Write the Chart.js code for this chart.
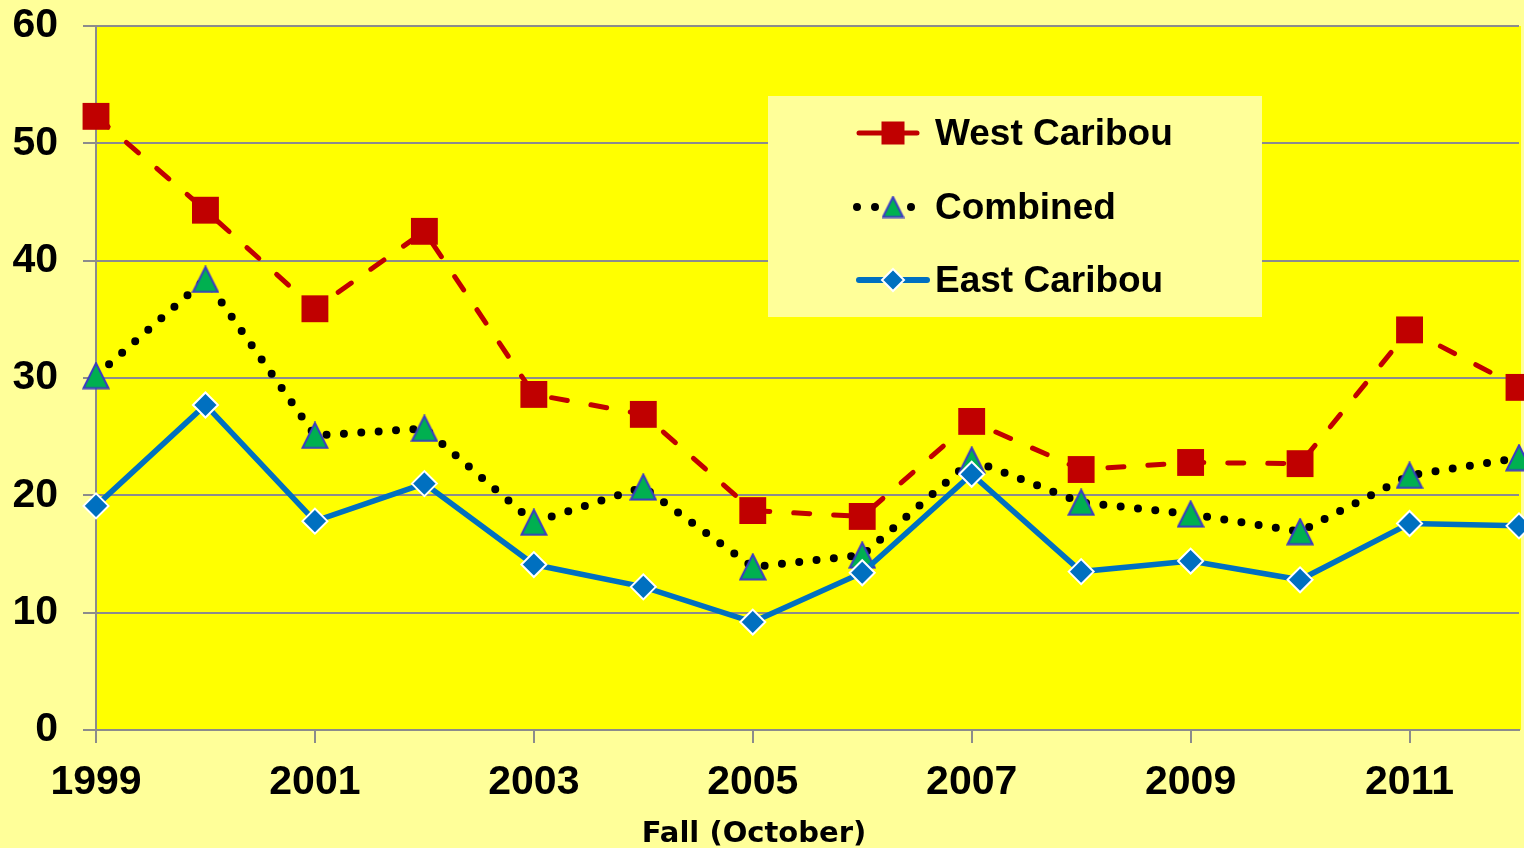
<!DOCTYPE html>
<html>
<head>
<meta charset="utf-8">
<script src="https://cdn.jsdelivr.net/npm/chart.js@4.4.0/dist/chart.umd.min.js"></script>
<style>
  html, body { margin: 0; padding: 0; background: #ffff99; }
  #wrap { width: 1524px; height: 848px; position: relative; }
</style>
</head>
<body>
<div id="wrap"><canvas id="caribou"></canvas></div>
<script>
// values
var years = [1999, 2000, 2001, 2002, 2003, 2004, 2005, 2006, 2007, 2008, 2009, 2010, 2011, 2012];
var yearTicks = [1999, 2001, 2003, 2005, 2007, 2009, 2011];
var countTicks = [0, 10, 20, 30, 40, 50, 60];
var westCaribou = [52.3, 44.3, 35.9, 42.5, 28.6, 26.9, 18.7, 18.2, 26.3, 22.2, 22.8, 22.7, 34.1, 29.2];
var combined    = [30.2, 38.4, 25.1, 25.7, 17.7, 20.7, 13.9, 14.9, 23.0, 19.4, 18.4, 16.9, 21.7, 23.2];
var eastCaribou = [19.1, 27.7, 17.8, 21.0, 14.1, 12.2, 9.2, 13.4, 21.8, 13.5, 14.4, 12.8, 17.6, 17.4];
var seriesNames = ["West Caribou", "Combined", "East Caribou"];

var RED = "#c00000", GREEN = "#00b050", BLUE = "#0070c0", TRI_EDGE = "#3b3bc4";
var GRID = "#8c8c8c";
var TICK_FONT = { family: "'Liberation Sans', Arial, sans-serif", size: 41, weight: "bold" };

// excel-like triangle marker (centred on its box)
function makeTriangle(size) {
  var c = document.createElement("canvas");
  c.width = size; c.height = size;
  var g = c.getContext("2d");
  g.beginPath();
  g.moveTo(size / 2, 1.5);
  g.lineTo(size - 1.5, size - 1.5);
  g.lineTo(1.5, size - 1.5);
  g.closePath();
  g.fillStyle = GREEN; g.fill();
  g.lineWidth = 2; g.strokeStyle = TRI_EDGE; g.stroke();
  return c;
}
var triBig = makeTriangle(28);
var triSmall = makeTriangle(23);

var backgroundPlugin = {
  id: "plotBg",
  beforeDraw: function(chart) {
    var ctx = chart.ctx, a = chart.chartArea;
    ctx.save();
    ctx.fillStyle = "#ffff99";
    ctx.fillRect(0, 0, chart.width, chart.height);
    ctx.fillStyle = "#ffff00";
    ctx.fillRect(a.left, a.top, a.right - a.left + 2, a.bottom - a.top);
    ctx.restore();
  }
};

// legend box + axis title drawn by hand to sit where the original has them
var legendPlugin = {
  id: "boxLegend",
  afterDraw: function(chart) {
    var ctx = chart.ctx;
    ctx.save();
    ctx.fillStyle = "#ffff99";
    ctx.fillRect(768, 96, 494, 221);

    ctx.lineCap = "round";
    // West Caribou
    ctx.strokeStyle = RED; ctx.lineWidth = 5;
    ctx.beginPath(); ctx.moveTo(859, 133); ctx.lineTo(917, 133); ctx.stroke();
    ctx.fillStyle = RED;
    ctx.fillRect(893 - 11.5, 133 - 11.5, 23, 23);
    // Combined
    ctx.strokeStyle = "#000"; ctx.lineWidth = 8;
    ctx.setLineDash([0, 18]);
    ctx.beginPath(); ctx.moveTo(857, 207); ctx.lineTo(912, 207); ctx.stroke();
    ctx.setLineDash([]);
    ctx.drawImage(triSmall, 893 - 11.5, 207 - 11.5);
    // East Caribou
    ctx.strokeStyle = BLUE; ctx.lineWidth = 6;
    ctx.beginPath(); ctx.moveTo(859, 280); ctx.lineTo(927, 280); ctx.stroke();
    ctx.beginPath();
    ctx.moveTo(893, 269); ctx.lineTo(904, 280); ctx.lineTo(893, 291); ctx.lineTo(882, 280);
    ctx.closePath();
    ctx.fillStyle = BLUE; ctx.fill();
    ctx.strokeStyle = "#fff"; ctx.lineWidth = 2; ctx.stroke();

    ctx.fillStyle = "#000";
    ctx.font = "bold 37px 'Liberation Sans', Arial, sans-serif";
    ctx.textBaseline = "alphabetic";
    ctx.fillText(seriesNames[0], 935, 145);
    ctx.fillText(seriesNames[1], 935, 219);
    ctx.fillText(seriesNames[2], 935, 292);

    ctx.font = "bold 29px 'DejaVu Sans', sans-serif";
    ctx.textAlign = "center";
    ctx.fillText("Fall (October)", 754, 842);
    ctx.restore();
  }
};

new Chart(document.getElementById("caribou"), {
  type: "line",
  data: {
    labels: years,
    datasets: [
      {
        label: seriesNames[0],
        data: westCaribou,
        order: 2,
        borderColor: RED,
        borderWidth: 5,
        borderDash: [16, 24],
        borderCapStyle: "round",
        pointStyle: "rect",
        pointRadius: 19,
        pointBackgroundColor: RED,
        pointBorderColor: RED,
        pointBorderWidth: 0,
        tension: 0
      },
      {
        label: seriesNames[1],
        data: combined,
        order: 1,
        borderColor: "#000",
        borderWidth: 8,
        borderDash: [0, 17.4],
        borderCapStyle: "round",
        pointStyle: triBig,
        pointRadius: 14,
        tension: 0
      },
      {
        label: seriesNames[2],
        data: eastCaribou,
        order: 0,
        borderColor: BLUE,
        borderWidth: 5.5,
        pointStyle: "rectRot",
        pointRadius: 12.5,
        pointBackgroundColor: BLUE,
        pointBorderColor: "#fff",
        pointBorderWidth: 2,
        tension: 0
      }
    ]
  },
  options: {
    responsive: true,
    maintainAspectRatio: false,
    animation: false,
    clip: false,
    layout: { autoPadding: false, padding: { top: 26, right: 5, left: 0, bottom: 0 } },
    plugins: {
      legend: { display: false },
      tooltip: { enabled: false }
    },
    scales: {
      x: {
        type: "linear",
        min: 1999,
        max: 2012,
        afterBuildTicks: function(scale) {
          scale.ticks = yearTicks.map(function(v) { return { value: v }; });
        },
        afterFit: function(scale) {
          scale.height = 118;
          scale.paddingLeft = 0;
          scale.paddingRight = 0;
        },
        grid: { drawOnChartArea: false, drawTicks: true, tickLength: 13, color: GRID, lineWidth: 2 },
        border: { display: true, color: GRID, width: 2 },
        ticks: {
          autoSkip: false,
          maxRotation: 0,
          padding: 15,
          color: "#000",
          font: TICK_FONT,
          callback: function(v) { return String(v); }
        }
      },
      y: {
        min: 0,
        max: 60,
        afterBuildTicks: function(scale) {
          scale.ticks = countTicks.map(function(v) { return { value: v }; });
        },
        afterFit: function(scale) {
          scale.width = 96;
          scale.paddingTop = 0;
          scale.paddingBottom = 0;
        },
        grid: { color: GRID, lineWidth: 2, tickLength: 13 },
        border: { display: true, color: GRID, width: 2 },
        ticks: { padding: 25, color: "#000", font: TICK_FONT }
      }
    }
  },
  plugins: [backgroundPlugin, legendPlugin]
});
</script>
</body>
</html>
